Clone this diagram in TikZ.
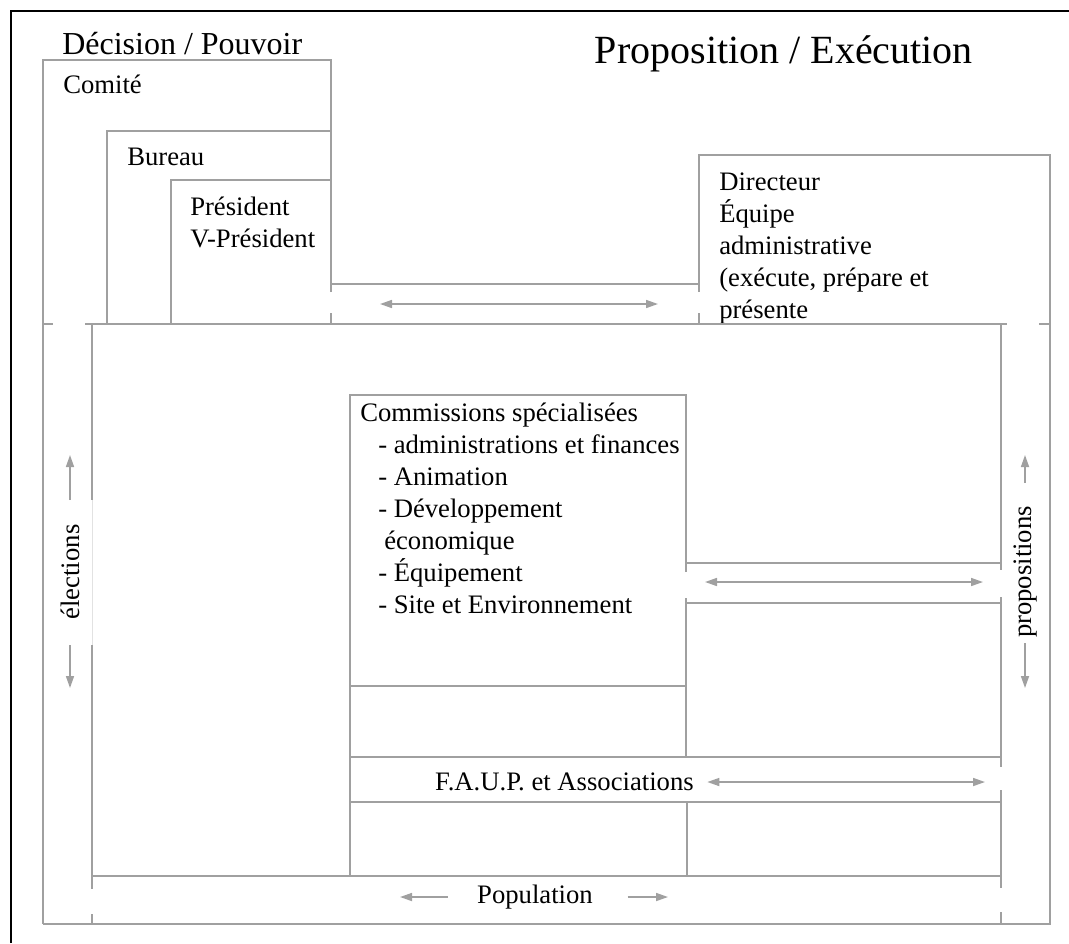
\documentclass[tikz,border=0pt]{standalone}
\usepackage{fontspec}
\setmainfont{Liberation Serif}
\usetikzlibrary{arrows.meta}
\definecolor{wallgray}{RGB}{160,160,160}

\begin{document}
\begin{tikzpicture}[x=0.75pt,y=-0.75pt,
    wall/.style={draw=wallgray, line width=1.5pt},
    arr/.style={draw=wallgray, line width=1.2pt, -{Triangle[length=9pt,width=6pt]}},
    dblarr/.style={draw=wallgray, line width=1.2pt, {Triangle[length=9pt,width=6pt]}-{Triangle[length=9pt,width=6pt]}},
    lbl/.style={inner sep=0pt, anchor=north west, align=left, font=\fontsize{20}{24}\selectfont},
    title/.style={inner sep=0pt, anchor=north west, font=\fontsize{24}{28}\selectfont}]
    \useasboundingbox (0,0) rectangle (1069,943);

    % Outer frame (only top and left show)
    \draw[line width=1.5pt] (11,943) -- (11,11) -- (1069,11);

    % Titles
    \node[title] (decision) at (62,32) {Décision / Pouvoir};
    \node[title, anchor=base east, font=\fontsize{30}{34}\selectfont] (proposition) at (973,63) {Proposition / Exécution};

    % Comité, Bureau, Président
    \draw[wall] (331,292) -- (331,60) -- (43,60) -- (43,924);
    \draw[wall] (107,324) |- (331,131);
    \draw[wall] (171,324) |- (331,180);
    \draw[wall] (331,313) -- (331,324);
    \node[lbl] (comite) at (63,75) {Comité};
    \node[lbl] (bureau) at (127,148) {Bureau};
    \node[lbl] (president) at (190,197) {Président\\V-Président};

    % Directeur box and outer right / bottom
    \draw[wall] (699,292) -- (699,155) -- (1050,155) -- (1050,924) -- (43,924);
    \draw[wall] (699,313) -- (699,324);
    \draw[wall] (331,284) -- (699,284);
    \node[lbl] (directeur) at (719,173) {Directeur\\Équipe\\administrative\\(exécute, prépare et\\présente};

    % Line under the top boxes
    \draw[wall] (43,324) -- (53,324) (85,324) -- (1007,324) (1039,324) -- (1050,324);

    % Inner frame
    \draw[wall] (92,324) -- (92,500) (92,645) -- (92,889) (92,914) -- (92,924);
    \draw[wall] (1001,324) -- (1001,570) (1001,597) -- (1001,767) (1001,790) -- (1001,888) (1001,912) -- (1001,924);
    \draw[wall] (92,876) -- (1001,876);
    \draw[wallgray!30, line width=0.4pt] (92,500) -- (92,645);

    % Commissions
    \draw[wall] (686,572) -- (686,395) -- (350,395) -- (350,876);
    \draw[wall] (686,598) -- (686,757);
    \draw[wall] (350,686) -- (686,686);
    \draw[wall] (686,563) -- (1001,563) (686,603) -- (1001,603);
    \node[lbl] (commissions) at (360,403) {Commissions spécialisées\\
        \hspace*{13.5pt}- administrations et finances\\
        \hspace*{13.5pt}- Animation\\
        \hspace*{13.5pt}- Développement\\
        \hspace*{18pt}économique\\
        \hspace*{13.5pt}- Équipement\\
        \hspace*{13.5pt}- Site et Environnement};

    % F.A.U.P. and Population
    \draw[wall] (350,757) -- (1001,757) (350,802) -- (1001,802);
    \draw[wall] (687,802) -- (687,876);
    \node[lbl, anchor=east] (faup) at (694,782) {F.A.U.P. et Associations};
    \node[lbl, anchor=center] (population) at (535,897) {Population};

    % Side labels
    \node[lbl, anchor=center, rotate=90] (elections) at (70,572) {élections};
    \node[lbl, anchor=center, rotate=90] (propositions) at (1025,572) {propositions};

    % Arrow ends
    \coordinate (topL) at (380,304);   \coordinate (topR) at (658,304);
    \coordinate (midL) at (705,582);   \coordinate (midR) at (983,582);
    \coordinate (faupR) at (985,782);
    \coordinate (elUp) at (70,455);    \coordinate (elDown) at (70,688);
    \coordinate (prUp) at (1025,455);  \coordinate (prDown) at (1025,688);
    \coordinate (popL) at (400,897);   \coordinate (popR) at (668,897);

    % Arrows
    \draw[dblarr] (topL) -- (topR);
    \draw[dblarr] (midL) -- (midR);
    \draw[dblarr] ([xshift=10pt]faup.east) -- (faupR);
    \draw[arr] (70,500) -- (elUp);
    \draw[arr] (70,645) -- (elDown);
    \draw[arr] (1025,483) -- (prUp);
    \draw[arr] (1025,643) -- (prDown);
    \draw[arr] ([xshift=-22pt]population.west) -- (popL);
    \draw[arr] ([xshift=26pt]population.east) -- (popR);
\end{tikzpicture}
\end{document}
